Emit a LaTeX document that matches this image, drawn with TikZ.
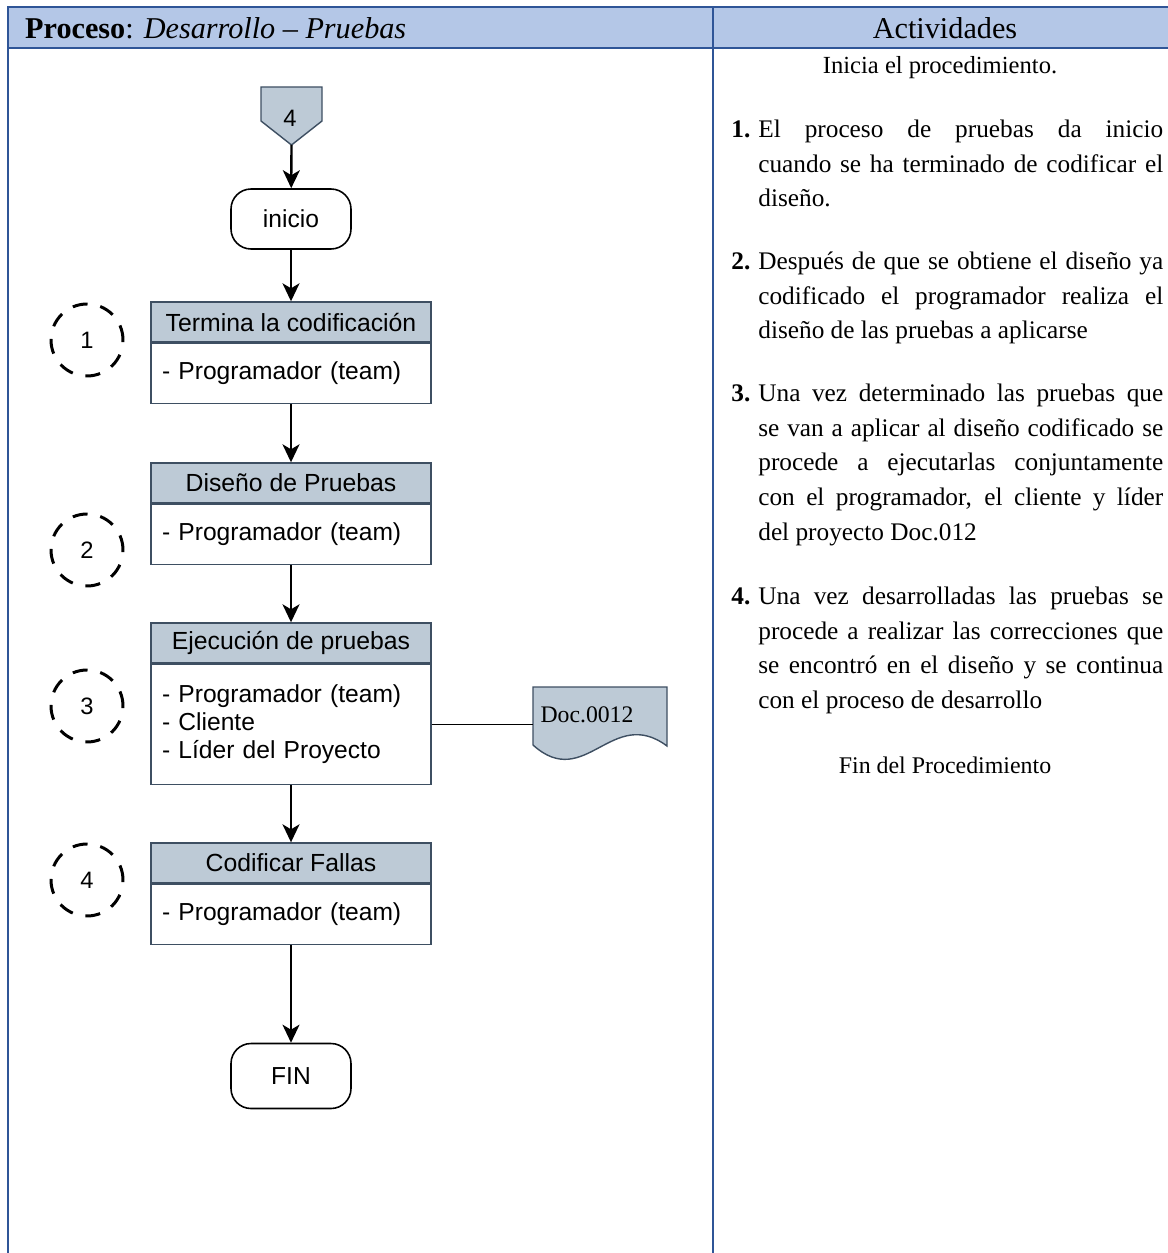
\documentclass[tikz,border=0pt]{standalone}
\usepackage{fontspec}
\setmainfont{Liberation Serif}
\newfontfamily\arialfont{Liberation Sans}
\usetikzlibrary{arrows.meta}

\definecolor{tablaazul}{HTML}{2F5597}
\definecolor{cabecera}{HTML}{B4C7E7}
\definecolor{grisazul}{HTML}{BDCAD6}
\definecolor{bordebox}{HTML}{3E4F62}

% una linea justificada de la columna de actividades
\newcommand{\jline}[1]{\makebox[8.1cm][s]{#1}}

\tikzset{
  tabla/.style={line width=1.5pt,tablaazul},
  flecha/.style={line width=1.35pt,-{Stealth[length=0.36cm,width=0.34cm,inset=0.1cm]}},
  titulo/.style={draw=bordebox,fill=grisazul,line width=0.8pt,minimum width=5.6cm,
    minimum height=0.8cm,inner sep=0pt,font=\arialfont\fontsize{14.1}{16}\selectfont},
  cuerpo/.style={draw=bordebox,line width=0.8pt,anchor=north,text width=5.16cm,
    inner xsep=0.22cm,inner ysep=0pt,align=left,
    font=\arialfont\fontsize{14}{15.9}\selectfont},
  terminal/.style={draw,rounded corners=0.4cm,line width=0.9pt,minimum width=2.4cm,
    minimum height=1.2cm,font=\arialfont\fontsize{14}{16}\selectfont},
  paso/.style={draw,circle,line width=1.7pt,dash pattern=on 0.3cm off 0.26cm,
    minimum size=1.44cm,inner sep=0pt,font=\arialfont\fontsize{13.5}{15}\selectfont},
  item/.style={anchor=north west,inner sep=0pt,align=left,
    font=\fontsize{14.4}{19.7}\selectfont},
}

\begin{document}
\begin{tikzpicture}[x=0.02cm,y=-0.02cm]
\useasboundingbox (0,0) rectangle (1167,1253);

% tabla
\fill[cabecera] (8,7) rectangle (1170,48);
\draw[tabla] (8,1260) -- (8,7) -- (1170,7);
\draw[tabla] (8,48) -- (1170,48);
\draw[tabla] (713,7) -- (713,1260);
\node[anchor=west,font=\fontsize{17.2}{20}\selectfont] (proc) at (19,28)
  {\textbf{Proceso}: \textit{Desarrollo -- Pruebas}};
\node[font=\fontsize{17.2}{20}\selectfont] (act) at (945,28) {Actividades};

% conector de pagina
\draw[draw=bordebox,fill=grisazul,line width=0.8pt]
  (261,87) -- (322,87) -- (322,121) -- (291.5,145) -- (261,121) -- cycle;
\node[font=\arialfont\fontsize{13.5}{15}\selectfont] (con) at (290,118) {4};
\coordinate (conpunta) at (291.5,145);

\node[terminal] (ini) at (291,219) {inicio};

\node[titulo] (t1) at (291,322) {Termina la codificación};
\node[cuerpo,minimum height=1.2cm] (b1) at (t1.south) {- Programador (team)};

\node[titulo] (t2) at (291,483) {Diseño de Pruebas};
\node[cuerpo,minimum height=1.2cm] (b2) at (t2.south) {- Programador (team)};

\node[titulo] (t3) at (291,643) {Ejecución de pruebas};
\node[cuerpo,minimum height=2.4cm] (b3) at (t3.south)
  {- Programador (team)\\- Cliente\\- Líder del Proyecto\\[-8pt]};

\node[titulo] (t4) at (291,863) {Codificar Fallas};
\node[cuerpo,minimum height=1.2cm] (b4) at (t4.south) {- Programador (team)};

\node[terminal,minimum height=1.3cm] (fin) at (291,1076) {FIN};

\node[paso] (p1) at (87,340) {1};
\node[paso] (p2) at (87,550) {2};
\node[paso] (p3) at (87,706) {3};
\node[paso] (p4) at (87,880) {4};

% documento
\draw[draw=bordebox,fill=grisazul,line width=0.8pt]
  (533,687) -- (667,687) -- (667,746)
  .. controls (612,705) and (585,792) .. (533,745) -- cycle;
\node[font=\fontsize{13.5}{16}\selectfont] (doc) at (587,715) {Doc.0012};
\coordinate (docin) at (533,722);

\draw[flecha] (conpunta) -- (ini);
\draw[flecha] (ini) -- (t1);
\draw[flecha] (b1) -- (t2);
\draw[flecha] (b2) -- (t3);
\draw[flecha] (b3) -- (t4);
\draw[flecha] (b4) -- (fin);
\draw[line width=0.9pt] (b3.east) -- (b3.east -| docin);

% actividades
\node[font=\fontsize{14}{19.7}\selectfont] (inicia) at (940,68) {Inicia el procedimiento.};
\node[item] (a1) at (731,113)
  {\strut\makebox[0.54cm][l]{\textbf{1.}}\jline{El proceso de pruebas da inicio}\\
   \hspace*{0.54cm}\jline{cuando se ha terminado de codificar el}\\
   \hspace*{0.54cm}diseño.};
\node[item] (a2) at (731,245)
  {\strut\makebox[0.54cm][l]{\textbf{2.}}\jline{Después de que se obtiene el diseño ya}\\
   \hspace*{0.54cm}\jline{codificado el programador realiza el}\\
   \hspace*{0.54cm}diseño de las pruebas a aplicarse};
\node[item] (a3) at (731,377)
  {\strut\makebox[0.54cm][l]{\textbf{3.}}\jline{Una vez determinado las pruebas que}\\
   \hspace*{0.54cm}\jline{se van a aplicar al diseño codificado se}\\
   \hspace*{0.54cm}\jline{procede a ejecutarlas conjuntamente}\\
   \hspace*{0.54cm}\jline{con el programador, el cliente y líder}\\
   \hspace*{0.54cm}del proyecto Doc.012};
\node[item] (a4) at (731,580)
  {\strut\makebox[0.54cm][l]{\textbf{4.}}\jline{Una vez desarrolladas las pruebas se}\\
   \hspace*{0.54cm}\jline{procede a realizar las correcciones que}\\
   \hspace*{0.54cm}\jline{se encontró en el diseño y se continua}\\
   \hspace*{0.54cm}con el proceso de desarrollo};
\node[font=\fontsize{13.6}{19.7}\selectfont] (findel) at (945,765) {Fin del Procedimiento};
\end{tikzpicture}
\end{document}
